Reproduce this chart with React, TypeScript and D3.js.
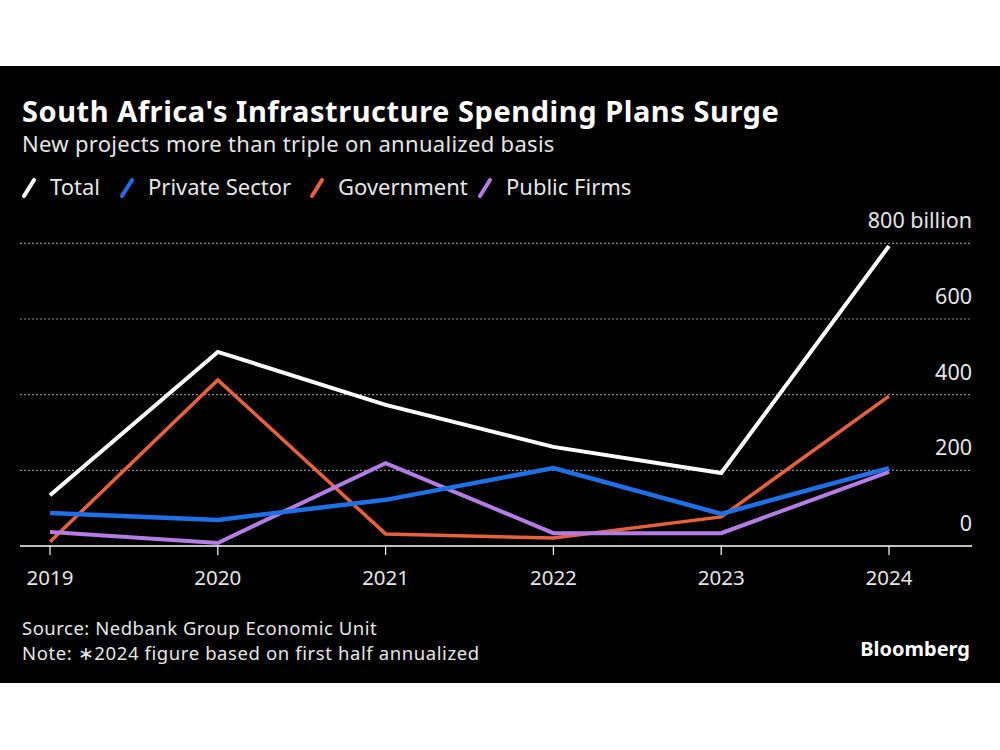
import React from "react";
import * as d3 from "d3";

const years = ["2019", "2020", "2021", "2022", "2023", "2024"];
const total = [134, 513, 373, 262, 193, 793];
const privateSector = [87, 69, 122, 206, 85, 206];
const government = [11, 439, 32, 21, 77, 396];
const publicFirms = [37, 8, 219, 34, 34, 196];
const yTicks = [0, 200, 400, 600, 800];

const series = [
  { name: "Total", values: total, color: "#ffffff", width: 4 },
  { name: "Government", values: government, color: "#e8613d", width: 3.5 },
  { name: "Public Firms", values: publicFirms, color: "#b57ce6", width: 4 },
  { name: "Private Sector", values: privateSector, color: "#1f6fe6", width: 4.5 },
];
const legendOrder = ["Total", "Private Sector", "Government", "Public Firms"];
const legendX = [22, 120, 310, 478];

const FONT = "'Noto Sans', 'Open Sans', sans-serif";

export default function App() {
  const W = 1000, H = 750;
  const x = d3.scalePoint<string>().domain(years).range([50, 889]);
  const y = d3.scaleLinear().domain([0, 800]).range([546, 243.3]);
  const line = d3
    .line<number>()
    .x((_, i) => x(years[i]) as number)
    .y((d) => y(d));

  return (
    <svg width={W} height={H} style={{ position: "absolute", left: 0, top: 0 }}>
      <rect x={0} y={0} width={W} height={H} fill="#ffffff" />
      <rect x={0} y={66} width={W} height={617} fill="#000000" />
      <text x={22} y={122} fill="#ffffff" fontFamily={FONT} fontWeight="bold" fontSize={29} letterSpacing={0.55}>
        South Africa's Infrastructure Spending Plans Surge
      </text>
      <text x={22} y={152} fill="#e6e6e6" fontFamily={FONT} fontSize={22} letterSpacing={0.3}>
        New projects more than triple on annualized basis
      </text>
      {legendOrder.map((n, i) => {
        const s = series.find((d) => d.name === n)!;
        const lx = legendX[i];
        return (
          <g key={n}>
            <line x1={lx + 2} y1={196} x2={lx + 12} y2={180} stroke={s.color} strokeWidth={4} strokeLinecap="round" />
            <text x={lx + 28} y={195} fill="#e6e6e6" fontFamily={FONT} fontSize={22}>
              {n}
            </text>
          </g>
        );
      })}
      {yTicks.map((t) =>
        t === 0 ? null : (
          <line key={"g" + t} x1={20} x2={972} y1={y(t)} y2={y(t)} stroke="#8a8a8a" strokeWidth={1.2} strokeDasharray="2,2" />
        )
      )}
      {yTicks.map((t) => (
        <text key={"t" + t} x={972} y={y(t) - 15} fill="#e6e6e6" fontFamily={FONT} fontSize={21.5} textAnchor="end">
          {t === 800 ? "800 billion" : String(t)}
        </text>
      ))}
      <line x1={20} x2={972} y1={y(0)} y2={y(0)} stroke="#ffffff" strokeWidth={1.5} />
      {years.map((yr) => (
        <g key={yr}>
          <line x1={x(yr)} x2={x(yr)} y1={y(0)} y2={y(0) + 9} stroke="#ffffff" strokeWidth={1.2} />
          <text x={x(yr)} y={585} fill="#e6e6e6" fontFamily={FONT} fontSize={20.5} textAnchor="middle">
            {yr}
          </text>
        </g>
      ))}
      {series.map((s) => (
        <path key={s.name} d={line(s.values) || ""} fill="none" stroke={s.color} strokeWidth={s.width} strokeLinejoin="miter" />
      ))}
      <text x={22} y={635} fill="#e6e6e6" fontFamily={FONT} fontSize={18.5} letterSpacing={0.5}>
        Source: Nedbank Group Economic Unit
      </text>
      <text x={22} y={660} fill="#e6e6e6" fontFamily={FONT} fontSize={18.5} letterSpacing={0.6}>
        Note: ∗2024 figure based on first half annualized
      </text>
      <text x={970} y={656} fill="#ffffff" fontFamily={FONT} fontWeight="bold" fontSize={20}>
        <tspan textAnchor="end">Bloomberg</tspan>
      </text>
    </svg>
  );
}
